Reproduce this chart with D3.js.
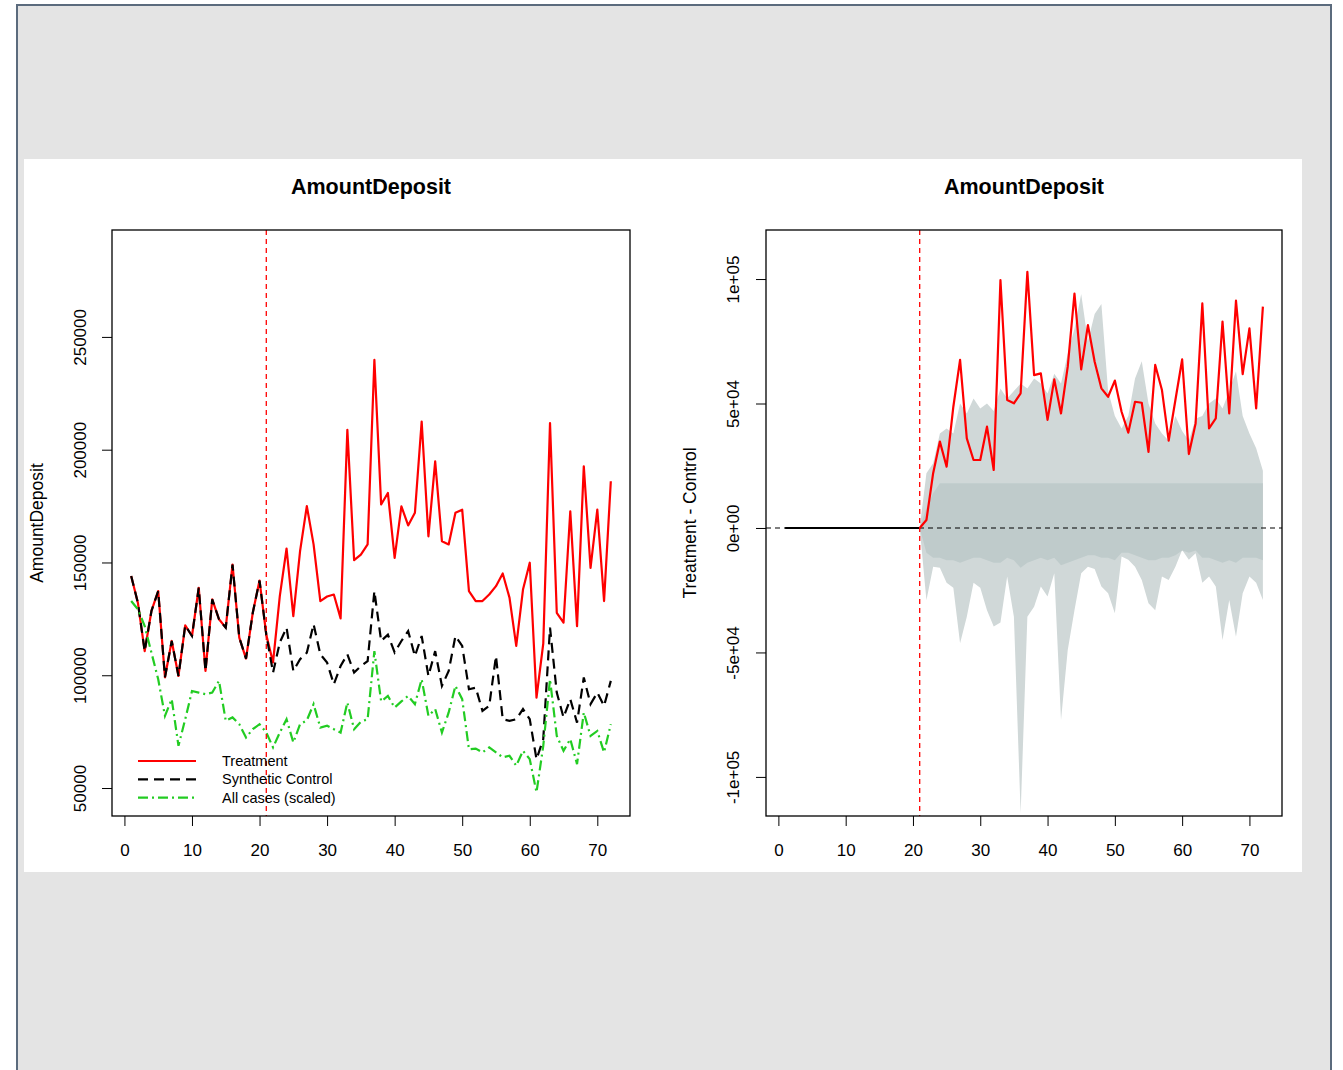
<!DOCTYPE html>
<html>
<head>
<meta charset="utf-8">
<script src="https://cdn.jsdelivr.net/npm/d3@7"></script>
<style>
body { margin:0; background:#fff; }
text { font-family: "Liberation Sans", Arial, sans-serif; fill:#000; }
</style>
</head>
<body>
<svg id="chart" width="1343" height="1070"></svg>
<script>
// time index 1..72, treatment starts at period 21
var periods = d3.range(1, 73);
var treatStart = 21;
var xTicks = [0, 10, 20, 30, 40, 50, 60, 70];
var yTicksLeft = [50000, 100000, 150000, 200000, 250000];
var yTicksRight = [-100000, -50000, 0, 50000, 100000];
var yTickLabelsRight = ['-1e+05', '-5e+04', '0e+00', '5e+04', '1e+05'];

var treatment = [144000, 132000, 110700, 128500, 137300, 99100, 115200, 99700, 122100, 117400,
  138800, 101900, 133600, 124800, 121100, 149100, 116700, 107400, 127700, 142000,
  118000, 105700, 135100, 156200, 126200, 155000, 175000, 158000, 132900, 134900,
  135800, 125200, 208800, 151000, 153500, 158000, 239800, 175700, 180800, 152000,
  174900, 166400, 172000, 212500, 161600, 194800, 159400, 158000, 172000, 173400,
  137300, 132900, 132900, 135800, 139500, 145100, 134400, 113000, 138000, 149900,
  90100, 114000, 211800, 127700, 123300, 172700, 121800, 192600, 147600, 173400,
  132900, 186000];

var synthetic = [144000, 132000, 110700, 128500, 137300, 99100, 115200, 99700, 122100, 117400,
  138800, 101900, 133600, 124800, 121100, 149100, 116700, 107400, 127700, 142000,
  118000, 101200, 114500, 121100, 101900, 107100, 110000, 122600, 109300, 105600,
  96000, 104100, 109300, 101200, 104100, 106300, 137300, 115200, 118000, 110100,
  115200, 119600, 108500, 117400, 99700, 110700, 95300, 101900, 117400, 113000,
  93800, 94500, 84200, 86400, 108500, 80500, 79800, 80500, 85000, 80500,
  62800, 71700, 121100, 92300, 81300, 89400, 79000, 99000, 87200, 92300,
  86400, 97500];

var allCases = [132900, 129200, 121800, 110000, 98200, 82000, 89400, 68700, 80500, 93000,
  92300, 91600, 92300, 97500, 79800, 81300, 78300, 72400, 76100, 78300,
  74600, 68000, 74600, 80500, 70200, 78300, 80000, 87200, 76800, 77600,
  76100, 74600, 87900, 76100, 79400, 80500, 110700, 88400, 90800, 85700,
  88400, 90800, 87200, 98200, 82000, 85000, 74600, 83500, 95300, 89400,
  67200, 67500, 65800, 68000, 65800, 63600, 64300, 59900, 66500, 62800,
  48100, 68700, 98200, 73100, 66500, 71700, 60600, 83500, 73100, 75300,
  65800, 78300];

// right panel: treatment - control
var prePeriods = d3.range(1, 22);
var gapPre = [0, 0, 0, 0, 0, 0, 0, 0, 0, 0, 0, 0, 0, 0, 0, 0, 0, 0, 0, 0, 0];
var postPeriods = d3.range(21, 73);
var gapPost = [0, 3200, 22000, 34700, 24600, 48700, 67500, 36000, 27300, 27300,
  40700, 23300, 99600, 51400, 50100, 54100, 102900, 61400, 62100, 43400,
  59700, 46000, 64800, 94200, 63700, 81500, 66800, 56100, 52700, 59200,
  46700, 38300, 50700, 50300, 30600, 65500, 55400, 35100, 51400, 67700,
  29700, 42000, 90200, 40000, 44000, 82900, 46000, 91300, 61800, 80200,
  48000, 88900];

// placebo gaps: outer envelope and dense core
var placeboHigh = [0, 22000, 26000, 38000, 40000, 38000, 50000, 46000, 52000, 48000,
  50000, 47000, 56000, 52000, 55000, 58000, 56000, 60000, 58000, 54000,
  62000, 58000, 70000, 80000, 94000, 75000, 86000, 90000, 55000, 45000,
  40000, 45000, 60000, 67000, 50000, 42000, 38000, 35000, 45000, 39000,
  35000, 44000, 45000, 50000, 52000, 48000, 55000, 63000, 45000, 38000,
  32000, 23000];
var placeboLow = [0, -29000, -15600, -16000, -22000, -24000, -46300, -35700, -22000, -24000,
  -33000, -39600, -38000, -19500, -35700, -114600, -35700, -31600, -23500, -27500,
  -18200, -77100, -49000, -33000, -18200, -15600, -16500, -23500, -26200, -34300,
  -11500, -12800, -15600, -20900, -30200, -33000, -19500, -20900, -15600, -8800,
  -12800, -10200, -22000, -19500, -23500, -45000, -28900, -43700, -26200, -19500,
  -22000, -28900];
var coreHigh = [0, 8000, 14000, 18000, 18000, 18000, 18000, 18000, 18000, 18000,
  18000, 18000, 18000, 18000, 18000, 18000, 18000, 18000, 18000, 18000,
  18000, 18000, 18000, 18000, 18000, 18000, 18000, 18000, 18000, 18000,
  18000, 18000, 18000, 18000, 18000, 18000, 18000, 18000, 18000, 18000,
  18000, 18000, 18000, 18000, 18000, 18000, 18000, 18000, 18000, 18000,
  18000, 18000];
var coreLow = [0, -10000, -12000, -12000, -13000, -13000, -14000, -13000, -12000, -12000,
  -13000, -14000, -14000, -12000, -13000, -16000, -14000, -13000, -12000, -13000,
  -12000, -15000, -14000, -13000, -12000, -11000, -11000, -12000, -12000, -13000,
  -10000, -10000, -11000, -12000, -13000, -13000, -12000, -12000, -11000, -9000,
  -10000, -9000, -12000, -12000, -13000, -14000, -13000, -14000, -12000, -12000,
  -12000, -13000];

var legendLabels = ['Treatment', 'Synthetic Control', 'All cases (scaled)'];

var svg = d3.select('#chart');

// page background
svg.append('rect').attr('x', 17).attr('y', 5).attr('width', 1314).attr('height', 1080)
  .attr('fill', '#e4e4e4').attr('stroke', '#5b6b7d').attr('stroke-width', 2);
svg.append('rect').attr('x', 24).attr('y', 159).attr('width', 1278).attr('height', 713)
  .attr('fill', '#fff');

var red = '#ff0000', green = '#22cc22', gray = '#d0d8d8', grayCore = '#bfcbcb';

function frame(g, x, y, title, ylab, ytickVals, ytickFmt, ylabX, tickX) {
  var left = x.range()[0], right = x.range()[1], top = y.range()[1], bottom = y.range()[0];

  var xa = g.append('g').attr('transform', 'translate(0,' + bottom + ')')
    .call(d3.axisBottom(x).tickValues(xTicks).tickSize(10).tickPadding(17.5).tickSizeOuter(0));
  xa.select('.domain').remove();
  xa.selectAll('line').attr('stroke', '#000');
  xa.selectAll('text').attr('font-size', 17).attr('font-family', '"Liberation Sans", Arial, sans-serif');

  var ya = g.append('g').attr('transform', 'translate(' + left + ',0)')
    .call(d3.axisLeft(y).tickValues(ytickVals).tickFormat(ytickFmt).tickSize(10).tickSizeOuter(0));
  ya.select('.domain').remove();
  ya.selectAll('line').attr('stroke', '#000');
  ya.selectAll('text')
    .attr('x', 0).attr('dy', 0)
    .attr('text-anchor', 'middle')
    .attr('font-size', 17).attr('font-family', '"Liberation Sans", Arial, sans-serif')
    .attr('transform', 'translate(' + tickX + ',0) rotate(-90)');

  g.append('rect').attr('x', left).attr('y', top).attr('width', right - left).attr('height', bottom - top)
    .attr('fill', 'none').attr('stroke', '#000').attr('stroke-width', 1.3);

  g.append('text').attr('x', (left + right) / 2).attr('y', 194)
    .attr('text-anchor', 'middle').attr('font-weight', 'bold').attr('font-size', 21.5)
    .text(title);

  g.append('text').attr('transform', 'translate(' + ylabX + ',' + (top + bottom) / 2 + ') rotate(-90)')
    .attr('text-anchor', 'middle').attr('font-size', 17.5)
    .text(ylab);
}

// ---- left panel
var xL = d3.scaleLinear().domain([-1.84, 74.84]).range([112, 630]);
var yL = d3.scaleLinear().domain([37600, 297400]).range([816, 230]);
var left = svg.append('g');

left.append('clipPath').attr('id', 'clipL').append('rect')
  .attr('x', 112).attr('y', 230).attr('width', 518).attr('height', 586);

var lineL = d3.line().x(function(d, i) { return xL(periods[i]); }).y(function(d) { return yL(d); });
var plotL = left.append('g').attr('clip-path', 'url(#clipL)');

plotL.append('path').datum(treatment).attr('d', lineL)
  .attr('fill', 'none').attr('stroke', red).attr('stroke-width', 2.2).attr('stroke-linejoin', 'round');
plotL.append('path').datum(synthetic).attr('d', lineL)
  .attr('fill', 'none').attr('stroke', '#000').attr('stroke-width', 2.2).attr('stroke-dasharray', '10,6');
plotL.append('path').datum(allCases).attr('d', lineL)
  .attr('fill', 'none').attr('stroke', green).attr('stroke-width', 2.2).attr('stroke-dasharray', '10,4,2,4');

plotL.append('line').attr('x1', xL(treatStart)).attr('x2', xL(treatStart))
  .attr('y1', 230).attr('y2', 816)
  .attr('stroke', red).attr('stroke-width', 1.3).attr('stroke-dasharray', '5,4');

frame(left, xL, yL, 'AmountDeposit', 'AmountDeposit', yTicksLeft, d3.format('d'), 43, -26);

// legend
var legStyles = [
  { color: red, dash: null },
  { color: '#000', dash: '10,6' },
  { color: green, dash: '10,4,2,4' }
];
var leg = left.append('g');
legendLabels.forEach(function(lab, i) {
  var yy = 761 + i * 18.3;
  var ln = leg.append('line').attr('x1', 138).attr('x2', 196).attr('y1', yy).attr('y2', yy)
    .attr('stroke', legStyles[i].color).attr('stroke-width', 2.2);
  if (legStyles[i].dash) ln.attr('stroke-dasharray', legStyles[i].dash);
  leg.append('text').attr('x', 222).attr('y', yy + 5).attr('font-size', 14.5).text(lab);
});

// ---- right panel
var xR = d3.scaleLinear().domain([-1.84, 74.84]).range([766, 1282]);
var yR = d3.scaleLinear().domain([-115700, 119700]).range([816, 230]);
var right = svg.append('g');

right.append('clipPath').attr('id', 'clipR').append('rect')
  .attr('x', 766).attr('y', 230).attr('width', 516).attr('height', 586);
var plotR = right.append('g').attr('clip-path', 'url(#clipR)');

var bandOuter = d3.area()
  .x(function(d, i) { return xR(postPeriods[i]); })
  .y0(function(d, i) { return yR(placeboLow[i]); })
  .y1(function(d, i) { return yR(placeboHigh[i]); });
var bandCore = d3.area()
  .x(function(d, i) { return xR(postPeriods[i]); })
  .y0(function(d, i) { return yR(coreLow[i]); })
  .y1(function(d, i) { return yR(coreHigh[i]); });

plotR.append('path').datum(postPeriods).attr('d', bandOuter).attr('fill', gray);
plotR.append('path').datum(postPeriods).attr('d', bandCore).attr('fill', grayCore);

var preLine = d3.line().x(function(d, i) { return xR(prePeriods[i]); }).y(function(d) { return yR(d); });
plotR.append('path').datum(gapPre).attr('d', preLine)
  .attr('fill', 'none').attr('stroke', '#000').attr('stroke-width', 2.2);

plotR.append('line').attr('x1', 766).attr('x2', 1282).attr('y1', yR(0)).attr('y2', yR(0))
  .attr('stroke', '#000').attr('stroke-width', 1.2).attr('stroke-dasharray', '5,4');

var postLine = d3.line().x(function(d, i) { return xR(postPeriods[i]); }).y(function(d) { return yR(d); });
plotR.append('path').datum(gapPost).attr('d', postLine)
  .attr('fill', 'none').attr('stroke', red).attr('stroke-width', 2.2).attr('stroke-linejoin', 'round');

plotR.append('line').attr('x1', xR(treatStart)).attr('x2', xR(treatStart))
  .attr('y1', 230).attr('y2', 816)
  .attr('stroke', red).attr('stroke-width', 1.3).attr('stroke-dasharray', '5,4');

frame(right, xR, yR, 'AmountDeposit', 'Treatment - Control', yTicksRight,
  function(d, i) { return yTickLabelsRight[i]; }, 696, -27);
</script>
</body>
</html>
